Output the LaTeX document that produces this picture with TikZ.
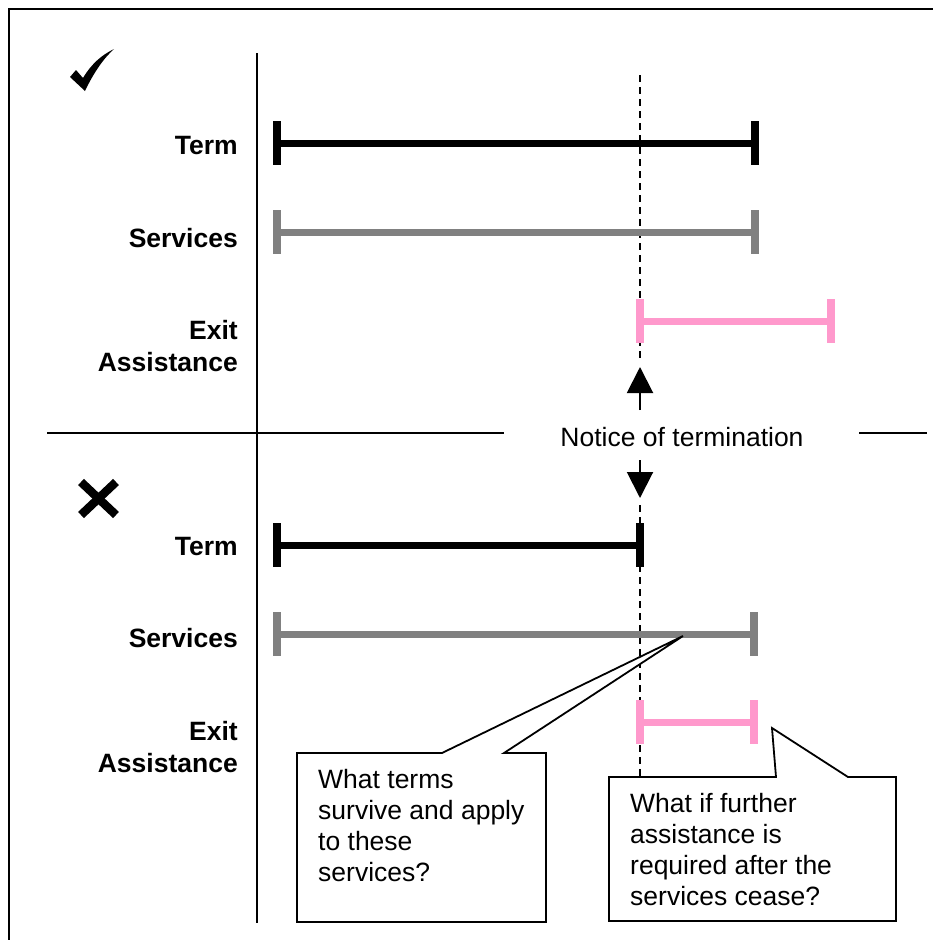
\documentclass[tikz,border=0pt]{standalone}
\usepackage{fontspec}
\setmainfont{Liberation Sans}
\usetikzlibrary{arrows.meta}
\definecolor{barpink}{HTML}{FF99CC}
\definecolor{bargray}{HTML}{808080}
\newcommand\spanbar[5]{%
  \coordinate (#5a) at (#3,#2);
  \coordinate (#5b) at (#4,#2);
  \draw[#1, line width=7pt] (#5a) -- (#5b);
  \draw[#1, line width=8pt] ([yshift=22pt]#5a) -- ([yshift=-22pt]#5a);
  \draw[#1, line width=8pt] ([yshift=22pt]#5b) -- ([yshift=-22pt]#5b);
}
\begin{document}
\begin{tikzpicture}[x=1pt,y=-1pt,
  lbl/.style={font=\fontsize{26.5}{31.5}\selectfont\bfseries, anchor=east, align=right, inner sep=0pt},
  txt/.style={font=\fontsize{26.5}{30.8}\selectfont, inner sep=0pt, align=left},
  thin/.style={line width=1.6pt},
  dashline/.style={line width=2pt, dash pattern=on 7pt off 5pt},
  callout/.style={line width=1.8pt, fill=white, line join=miter},
  notice/.style={line width=2pt, -{Triangle[width=26pt,length=26pt]}}]
\useasboundingbox (0,0) rectangle (933,940);
% frame (top and left visible)
\draw[line width=2pt] (9,940) -- (9,9) -- (933,9);
% axes
\coordinate (vtop) at (257,53);
\coordinate (vbot) at (257,923);
\draw[thin] (vtop) -- (vbot);
\coordinate (hl1) at (47,433);
\coordinate (hl2) at (504,433);
\coordinate (hr1) at (859,433);
\coordinate (hr2) at (927,433);
\draw[thin] (hl1) -- (hl2);
\draw[thin] (hr1) -- (hr2);
% check mark
\fill (70,77) -- (76,70) -- (83,78) .. controls (92,63) and (102,55) .. (114,49)
  .. controls (104,58) and (94,72) .. (85,91) -- cycle;
% cross
\draw[line width=8.5pt] (81,482) -- (116,515);
\draw[line width=8.5pt] (116,482) -- (81,515);
% dashed notice line
\coordinate (d1) at (640,75);
\coordinate (d2) at (640,358);
\coordinate (d3) at (640,505);
\coordinate (d4) at (640,777);
\draw[dashline] (d1) -- (d2);
\draw[dashline] (d3) -- (d4);
% labels top
\node[lbl] (lt1) at (238,146) {Term};
\node[lbl] (ls1) at (238,238) {Services};
\node[lbl] (le1) at (238,346) {Exit\\Assistance};
% labels bottom
\node[lbl] (lt2) at (238,547) {Term};
\node[lbl] (ls2) at (238,638) {Services};
\node[lbl] (le2) at (238,747) {Exit\\Assistance};
% bars
\spanbar{black}{143}{277}{755}{tt}
\spanbar{bargray}{232}{277}{755}{st}
\spanbar{barpink}{321}{640}{831}{et}
\spanbar{black}{545}{277}{640}{tb}
\spanbar{bargray}{634}{277}{754}{sb}
\spanbar{barpink}{722}{640}{754}{eb}
% notice
\node[txt] (notice) at (682,437) {Notice of termination};
\coordinate (au1) at (640,410);
\coordinate (au2) at (640,367);
\coordinate (ad1) at (640,460);
\coordinate (ad2) at (640,498);
\draw[notice] (au1) -- (au2);
\draw[notice] (ad1) -- (ad2);
% callout 1
\coordinate (c1tip) at (683,636);
\draw[callout] (297,753) -- (442,753) -- (c1tip) -- (504,753) -- (546,753) -- (546,922) -- (297,922) -- cycle;
\node[txt, anchor=north west] (q1) at (318,769.5) {What terms\\survive and apply\\to these\\services?};
% callout 2
\coordinate (c2tip) at (772,728);
\draw[callout] (609,777) -- (776,777) -- (c2tip) -- (848,777) -- (896,777) -- (896,921) -- (609,921) -- cycle;
\node[txt, anchor=north west] (q2) at (630,793.5) {What if further\\assistance is\\required after the\\services cease?};
\end{tikzpicture}
\end{document}
